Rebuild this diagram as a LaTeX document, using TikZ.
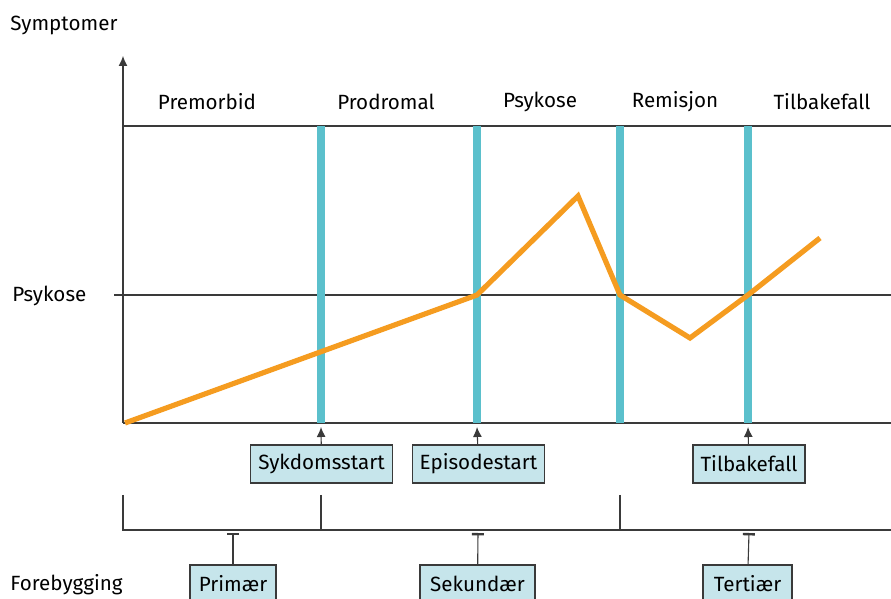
\documentclass[tikz,border=0pt]{standalone}
\usepackage{fontspec}
\setmainfont{Fira Sans}
\usetikzlibrary{arrows.meta}
\definecolor{fase}{HTML}{5BC0CC}
\definecolor{kurve}{HTML}{F59C20}
\definecolor{boks}{HTML}{C6E5EB}
\definecolor{strek}{HTML}{3A3A3A}
\tikzset{
  merke/.style={draw=strek,fill=boks,line width=0.6pt,inner sep=3pt,minimum height=19pt},
  tekst/.style={font=\fontsize{10.3}{11}\selectfont,inner sep=0pt},
  linje/.style={draw=strek,line width=0.55pt},
  pil/.style={linje,-{Latex[length=5pt,width=4.5pt]}},
  stopp/.style={linje,-{Bar[width=6pt,line width=1.2pt]}},
}
\begin{document}
\begin{tikzpicture}[x=0.5pt,y=-0.5pt]
		\useasboundingbox (0,0) rectangle (891,599);

		% akser og faser
		\draw[pil] (123,423) -- (123,56);
		\draw[linje] (123,126) -- (891,126);
		\draw[linje] (114,295) -- (891,295);
		\draw[linje] (123,423) -- (891,423);
		\foreach \x in {321,477,620,748}
			\draw[fase,line width=4pt] (\x,126) -- (\x,423);

		\draw[kurve,line width=2.6pt,line join=miter]
			(125,423) -- (477,295) -- (578,196) -- (620,295) -- (690,338) -- (748,295) -- (820,238);

		\node[tekst,anchor=west] (sympt) at (10,25) {Symptomer};
		\node[tekst,anchor=west] (psyk) at (12,296) {Psykose};
		\node[tekst,anchor=west] (foreb) at (10,585) {Forebygging};

		\node[tekst] (premorbid) at (207,102) {Premorbid};
		\node[tekst] (prodromal) at (386,102) {Prodromal};
		\node[tekst] (psykose) at (540,102) {Psykose};
		\node[tekst] (remisjon) at (675,102) {Remisjon};
		\node[tekst] (tilbake) at (822,102) {Tilbakefall};

		% hendelser
		\node[merke,tekst,inner sep=3pt,minimum height=19pt,minimum width=71pt] (sykdom) at (321.5,464) {Sykdomsstart};
		\node[merke,tekst,inner sep=3pt,minimum height=19pt,minimum width=66pt] (episode) at (478.5,464) {Episodestart};
		\node[merke,tekst,inner sep=3pt,minimum height=19pt,minimum width=56pt] (tilbakefall) at (749,464) {Tilbakefall};
		\coordinate (s1) at (321,427);
		\coordinate (s2) at (477,427);
		\coordinate (s3) at (748,427);
		\draw[pil] (sykdom) -- (s1);
		\draw[pil] (episode) -- (s2);
		\draw[pil] (tilbakefall) -- (s3);

		% forebygging
		\draw[linje] (123,495) -- (123,530) -- (891,530);
		\draw[linje] (321,495) -- (321,530);
		\draw[linje] (620,495) -- (620,530);
		\node[merke,tekst,inner sep=3pt,minimum height=19pt,minimum width=43pt] (primaer) at (233,584) {Primær};
		\node[merke,tekst,inner sep=3pt,minimum height=19pt,minimum width=57.5pt] (sekundaer) at (477.5,584) {Sekundær};
		\node[merke,tekst,inner sep=3pt,minimum height=19pt,minimum width=44.5pt] (tertiaer) at (747.5,584) {Tertiær};
		\coordinate (f1) at (233,533);
		\coordinate (f2) at (478,533);
		\coordinate (f3) at (749,533);
		\draw[stopp] (primaer) -- (f1);
		\draw[stopp] (sekundaer) -- (f2);
		\draw[stopp] (tertiaer) -- (f3);
	\end{tikzpicture}
\end{document}
